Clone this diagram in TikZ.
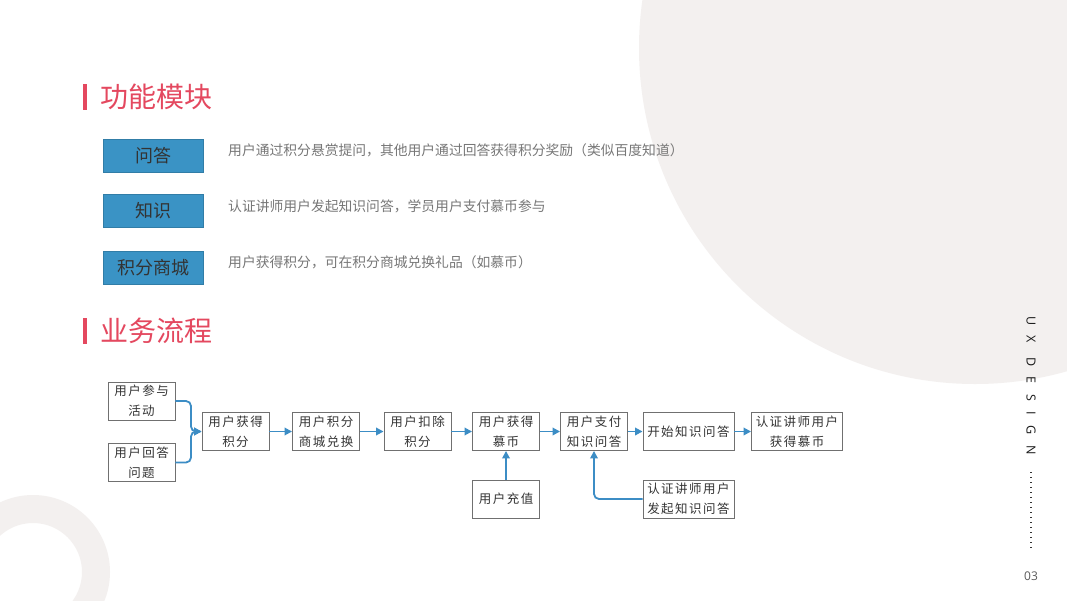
\documentclass[tikz,border=0pt]{standalone}
\usepackage{fontspec}
\usetikzlibrary{arrows.meta}
\newfontfamily\cjk{Noto Sans CJK SC}
\newfontfamily\cjkspaced[LetterSpace=12]{Noto Sans CJK SC}
\newfontfamily\uxfont[LetterSpace=85]{Open Sans}
\newfontfamily\numfont{Open Sans}
\definecolor{bgcirc}{HTML}{F3F0EF}
\definecolor{titlered}{HTML}{E4485F}
\definecolor{boxblue}{HTML}{3A93C5}
\definecolor{arrblue}{HTML}{3C8DC5}
\definecolor{desc}{HTML}{777777}
\definecolor{dark}{HTML}{333333}
\definecolor{sketch}{HTML}{707070}
\tikzset{
  titletxt/.style={anchor=west, inner sep=0, text=titlered, font=\cjk\fontsize{28}{30}\selectfont},
  titlebar/.style={fill=titlered},
  modbox/.style={fill=boxblue, draw=boxblue!85!black, line width=0.4pt, minimum width=100pt, minimum height=33pt, inner sep=0, text=dark, font=\cjk\fontsize{18}{20}\selectfont},
  desctxt/.style={anchor=west, inner sep=0, text=desc, font=\cjk\fontsize{13.8}{16}\selectfont},
  flowbox/.style={draw=sketch, line width=0.9pt, fill=white, minimum height=38pt, inner sep=1pt, align=center, text=dark, font=\cjkspaced\fontsize{12.5}{20}\selectfont},
  narrowbox/.style={flowbox, minimum width=67pt, text width=64pt},
  widebox/.style={flowbox, minimum width=91pt, text width=88pt},
  arr/.style={draw=arrblue, line width=1.8pt, -{Triangle[length=7.5pt,width=7.5pt]}, rounded corners=5pt},
}
\begin{document}
\begin{tikzpicture}[x=1pt,y=-1pt]
\useasboundingbox (0,0) rectangle (1067,600);
\fill[white] (0,0) rectangle (1067,600);
\begin{scope}
  \clip (0,0) rectangle (1067,600);
  \fill[bgcirc] (975,48) circle[radius=336];
  \fill[bgcirc, even odd rule] (33,572) circle[radius=77] (33,572) circle[radius=49];
\end{scope}

% titles
\fill[titlebar] (83,84) rectangle (87,110);
\node[titletxt] (t1) at (100,97) {功能模块};
\fill[titlebar] (83,318) rectangle (87,344);
\node[titletxt] (t2) at (100,331) {业务流程};

% modules
\node[modbox] (m1) at (153,155.5) {问答};
\node[modbox] (m2) at (153,211) {知识};
\node[modbox] (m3) at (153,267.5) {积分商城};
\node[desctxt] (d1) at (228,150) {用户通过积分悬赏提问，其他用户通过回答获得积分奖励（类似百度知道）};
\node[desctxt] (d2) at (228,206) {认证讲师用户发起知识问答，学员用户支付慕币参与};
\node[desctxt] (d3) at (228,262) {用户获得积分，可在积分商城兑换礼品（如慕币）};

% flow
\node[narrowbox] (a1) at (141.5,401) {用户参与\\活动};
\node[narrowbox] (a2) at (141.5,462.5) {用户回答\\问题};
\node[narrowbox] (b) at (235.5,431.5) {用户获得\\积分};
\node[narrowbox] (c) at (326,431.5) {用户积分\\商城兑换};
\node[narrowbox] (d) at (417.5,431.5) {用户扣除\\积分};
\node[narrowbox] (e) at (506,431.5) {用户获得\\慕币};
\node[narrowbox] (f) at (506,499) {用户充值};
\node[narrowbox] (g) at (594,431.5) {用户支付\\知识问答};
\node[widebox] (h) at (688.5,431.5) {开始知识问答};
\node[widebox] (i) at (797,431.5) {认证讲师用户\\获得慕币};
\node[widebox] (j) at (688.5,499) {认证讲师用户\\发起知识问答};

\coordinate (mg) at (191,431.5);
\draw[arr] (a1.east) -| (mg) -- (b.west);
\draw[arr] (a2.east) -| (mg) -- (b.west);
\draw[arr] (b) -- (c);
\draw[arr] (c) -- (d);
\draw[arr] (d) -- (e);
\draw[arr] (e) -- (g);
\draw[arr] (g) -- (h);
\draw[arr] (h) -- (i);
\draw[arr] (f) -- (e);
\draw[arr] (j.west) -| (g.south);

% right side
\node[rotate=-90, anchor=west, inner sep=0, text=black!90, font=\uxfont\fontsize{12.5}{14}\selectfont] (ux) at (1031,316) {UX DESIGN};
\coordinate (dt1) at (1031,472);
\coordinate (dt2) at (1031,551);
\draw[black!80, line width=1.3pt, dash pattern=on 1.3pt off 3.7pt, line cap=butt] (dt1) -- (dt2);
\node[inner sep=0, text=black!65, font=\numfont\fontsize{12}{14}\selectfont] (pg) at (1031,576) {03};
\end{tikzpicture}
\end{document}
